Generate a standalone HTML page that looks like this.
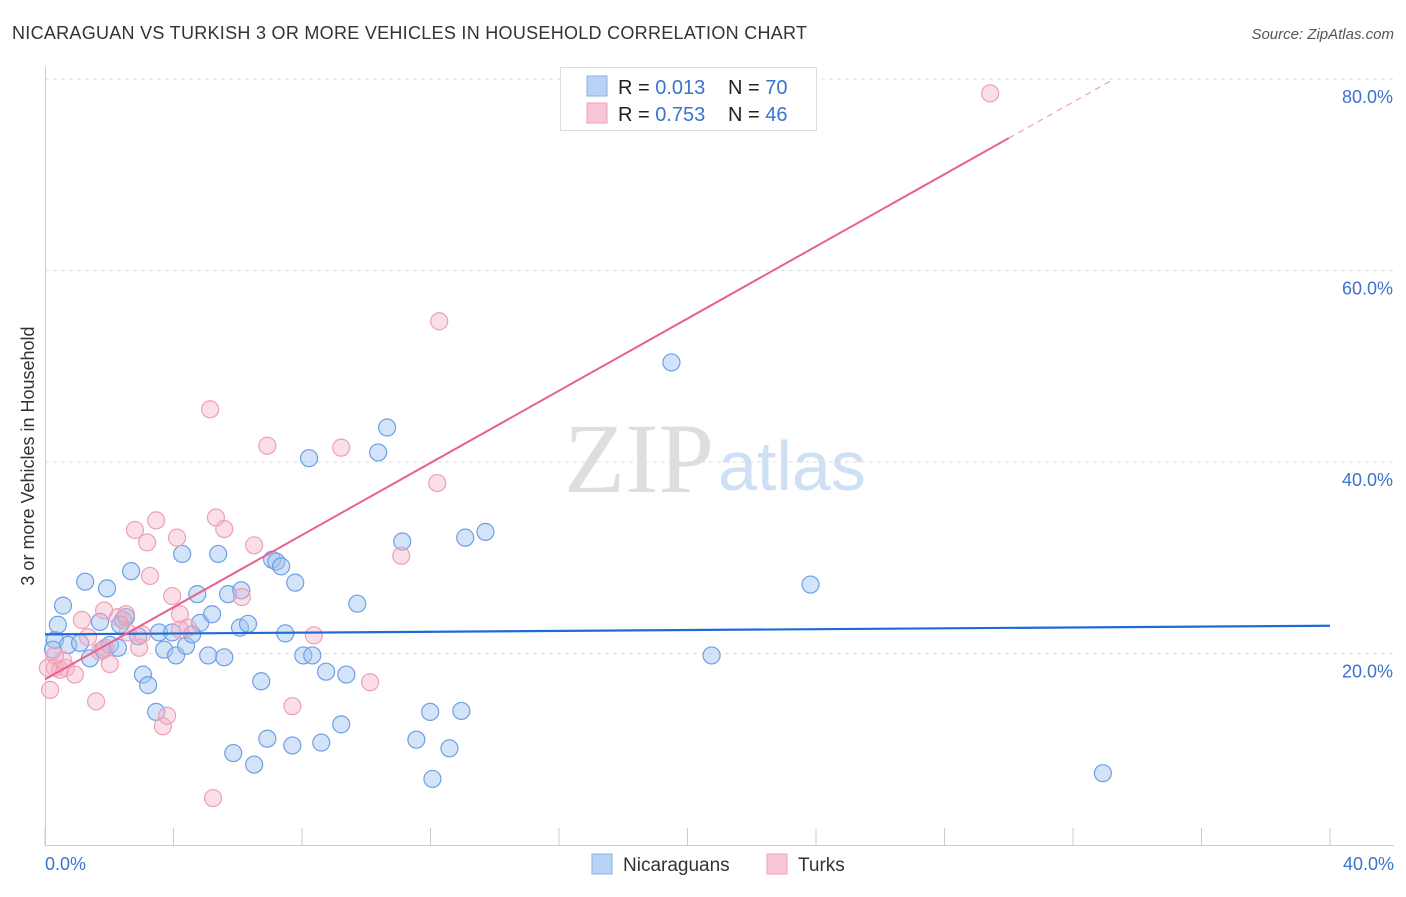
<!DOCTYPE html>
<html><head><meta charset="utf-8"><style>
body{margin:0;background:#fff;font-family:"Liberation Sans",sans-serif;}
svg text{font-family:"Liberation Sans",sans-serif;}
svg text.serif{font-family:"Liberation Serif",serif;}
</style></head><body>
<svg id="chart" width="1406" height="892">
<text x="12" y="39" font-size="18" fill="#333" textLength="795">NICARAGUAN VS TURKISH 3 OR MORE VEHICLES IN HOUSEHOLD CORRELATION CHART</text>
<text x="1394" y="39" font-size="15" fill="#555" font-style="italic" text-anchor="end">Source: ZipAtlas.com</text>
<text x="34" y="456" font-size="18" fill="#333" text-anchor="middle" transform="rotate(-90 34 456)">3 or more Vehicles in Household</text>
<text class="serif" x="714" y="492" font-size="100" fill="#dedede" text-anchor="end">ZIP</text>
<text x="718" y="490" font-size="70" fill="#cfe0f5">atlas</text>
<g id="grid"></g><g id="marks"></g>
<g>
<rect x="560.5" y="67.5" width="256" height="63" fill="#fff" stroke="#ddd"/>
<rect x="587" y="76" width="20" height="20" fill="#b8d2f5" stroke="#8ab0e8"/>
<rect x="587" y="103" width="20" height="20" fill="#f9c6d5" stroke="#eca2bb"/>
<text x="618" y="94" font-size="20" fill="#222">R = <tspan fill="#3a73d1">0.013</tspan><tspan x="728">N = </tspan><tspan fill="#3a73d1">70</tspan></text>
<text x="618" y="121" font-size="20" fill="#222">R = <tspan fill="#3a73d1">0.753</tspan><tspan x="728">N = </tspan><tspan fill="#3a73d1">46</tspan></text>
</g>
<g>
<rect x="592" y="854" width="20" height="20" fill="#b8d2f5" stroke="#8ab0e8"/>
<text x="623" y="871" font-size="19" fill="#333">Nicaraguans</text>
<rect x="767" y="854" width="20" height="20" fill="#f9c6d5" stroke="#eca2bb"/>
<text x="798" y="871" font-size="19" fill="#333">Turks</text>
</g>
</svg>
<script>
const yTicks=[20,40,60,80];
const yTickLabels=["20.0%","40.0%","60.0%","80.0%"];
const xTickLabels=["0.0%","40.0%"];
const blueX=[0.31,0.40,0.56,0.25,0.72,1.25,1.09,1.40,1.71,1.81,1.93,2.02,2.27,2.43,2.52,2.68,2.90,3.05,3.21,3.46,3.55,3.71,3.96,4.08,4.27,4.39,4.58,4.74,4.83,5.08,5.20,5.39,5.58,5.70,6.07,6.11,6.32,5.86,6.51,6.73,6.92,7.07,7.20,7.35,7.48,7.70,7.79,8.04,8.22,8.32,8.60,8.75,9.22,9.38,9.72,10.37,10.65,11.12,11.56,11.99,12.06,12.59,12.96,13.08,13.71,19.50,20.75,23.83,32.93,2.34];
const blueY=[21.4,23.0,25.0,20.4,20.9,27.5,21.1,19.5,23.3,20.4,26.8,20.9,20.6,23.5,23.8,28.6,21.8,17.8,16.7,13.9,22.2,20.4,22.2,19.8,30.4,20.8,22.0,26.2,23.2,19.8,24.1,30.4,19.6,26.2,22.7,26.6,23.1,9.6,8.4,17.1,11.1,29.8,29.6,29.1,22.1,10.4,27.4,19.8,40.4,19.8,10.7,18.1,12.6,17.8,25.2,41.0,43.6,31.7,11.0,13.9,6.9,10.1,14.0,32.1,32.7,50.4,19.8,27.2,7.5,23.0];
const pinkX=[0.16,0.31,0.47,0.65,0.93,0.56,1.15,1.34,1.59,1.71,1.87,2.02,2.27,2.52,2.80,2.93,3.02,3.18,3.27,3.46,3.67,3.80,3.96,4.11,4.20,4.45,5.14,5.23,5.32,5.58,6.13,6.51,6.92,7.70,8.37,9.22,10.12,11.09,12.21,12.27,29.42,0.31,0.09,2.58,1.84,4.20];
const pinkY=[16.2,18.5,18.3,18.5,17.8,19.3,23.5,21.7,15.0,20.2,20.6,18.9,23.8,24.1,32.9,20.6,22.0,31.6,28.1,33.9,12.4,13.5,26.0,32.1,24.1,22.7,45.5,4.9,34.2,33.0,25.9,31.3,41.7,14.5,21.9,41.5,17.0,30.2,37.8,54.7,78.5,19.8,18.5,22.2,24.5,22.5];
const blueLine=[22.0,22.9];
const pinkIntercept=17.3, pinkSlope=1.884;
const NS="http://www.w3.org/2000/svg";
const X=v=>45+v*(1285/40), Y=v=>845-v*9.575;
function mk(t,a,p){const e=document.createElementNS(NS,t);for(const k in a)e.setAttribute(k,a[k]);p.appendChild(e);return e;}
const g=document.getElementById('grid'), m=document.getElementById('marks');
yTicks.forEach((t,i)=>{
 const l=mk('line',{x1:45,x2:1394,y1:Y(t),y2:Y(t),stroke:'#ddd','stroke-dasharray':'4,4'},g);
 
 
 const tx=mk('text',{x:1393,y:Y(t)+24,'font-size':18,fill:'#3a73d1','text-anchor':'end'},g);
 tx.textContent=yTickLabels[i];
 
 
});
const ax=mk('line',{x1:45,x2:1394,y1:845.5,y2:845.5,stroke:'#ccc'},g);


const ay=mk('line',{x1:45.5,x2:45.5,y1:67,y2:845,stroke:'#ccc'},g);


for(let i=0;i<=10;i++){const t=mk('line',{x1:X(i*4),x2:X(i*4),y1:828,y2:845,stroke:'#ccc'},g);
 
 }
[[0,'start',45],[40,'end',1394]].forEach((d,i)=>{const t=mk('text',{x:d[2],y:870,'font-size':18,fill:'#3a73d1','text-anchor':d[1]},g);t.textContent=xTickLabels[i];
 
 });
blueX.forEach((v,i)=>{const c=mk('circle',{cx:X(v),cy:Y(blueY[i]),r:8.5,fill:'rgba(160,195,240,0.45)',stroke:'#6d9fe6','stroke-width':1.2},m);
 
 });
pinkX.forEach((v,i)=>{const c=mk('circle',{cx:X(v),cy:Y(pinkY[i]),r:8.5,fill:'rgba(245,175,195,0.4)',stroke:'#ee9fb8','stroke-width':1.2},m);
 
 });
const bl=mk('line',{x1:X(0),x2:X(40),y1:Y(blueLine[0]),y2:Y(blueLine[1]),stroke:'#1f6ad6','stroke-width':2.2},m);


const pl=mk('line',{x1:X(0),x2:X(30),y1:Y(pinkIntercept),y2:Y(pinkIntercept+pinkSlope*30),stroke:'#e8628e','stroke-width':2},m);


const xe=(80-pinkIntercept)/pinkSlope;
const pd=mk('line',{x1:X(30),x2:X(xe),y1:Y(pinkIntercept+pinkSlope*30),y2:Y(80),stroke:'#f0a0b8','stroke-width':1.2,'stroke-dasharray':'6,5'},m);


</script>
</body></html>
